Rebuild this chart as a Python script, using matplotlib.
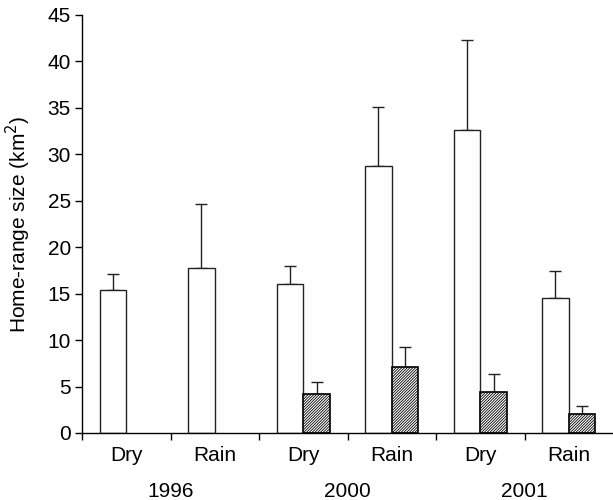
import matplotlib
matplotlib.use("Agg")
import matplotlib.pyplot as plt
import numpy as np

plt.rcParams['font.family'] = ['Liberation Sans', 'DejaVu Sans']
plt.rcParams['hatch.linewidth'] = 0.6

seasons = ["Dry", "Rain", "Dry", "Rain", "Dry", "Rain"]
years = ["1996", "2000", "2001"]
white_vals = [15.4, 17.75, 16.05, 28.7, 32.6, 14.5]
white_err = [1.75, 6.9, 1.9, 6.4, 9.75, 2.9]
hatch_vals = [np.nan, np.nan, 4.25, 7.15, 4.4, 2.05]
hatch_err = [np.nan, np.nan, 1.2, 2.1, 2.0, 0.85]

fig = plt.figure(figsize=(6.13, 5.0), dpi=100)
ax = fig.add_axes([0.1338, 0.134, 0.8662, 0.836])

x = np.arange(len(seasons)) + 0.5
w = 0.3
ax.bar(x - w/2, white_vals, width=w, color='white', edgecolor='#222222', linewidth=1.0, zorder=2)
ax.errorbar(x - w/2, white_vals, yerr=[np.zeros(len(white_vals)), white_err], fmt='none',
            ecolor='#222222', elinewidth=1.0, capsize=4, capthick=1.0, zorder=1)
hv = np.array(hatch_vals)
mask = ~np.isnan(hv)
ax.bar((x + w/2)[mask], hv[mask], width=w, color='white', edgecolor='black', hatch='/' * 12,
       linewidth=1.2, zorder=2)
ax.errorbar((x + w/2)[mask], hv[mask], yerr=[np.zeros(mask.sum()), np.array(hatch_err)[mask]],
            fmt='none', ecolor='#222222', elinewidth=1.0, capsize=4, capthick=1.0, zorder=1)

ax.set_xlim(0, 6)
ax.set_ylim(0, 45)
ax.set_yticks(np.arange(0, 46, 5))
ax.tick_params(axis='y', labelsize=15, direction='out', length=5, width=1, pad=3)
ax.set_xticks(np.arange(0, 6))
ax.set_xticklabels([])
ax.tick_params(axis='x', direction='out', length=5, width=1)
for s in ['top', 'right']:
    ax.spines[s].set_visible(False)
for s in ['left', 'bottom']:
    ax.spines[s].set_linewidth(1.0)

for xi, lab in zip(x, seasons):
    ax.text(xi, -2.4, lab, ha='center', va='center', fontsize=15)
for i, yr in enumerate(years):
    ax.text(2*i + 1, -6.3, yr, ha='center', va='center', fontsize=15)

ax.set_ylabel("Home-range size (km$^2$)", fontsize=15)
ax.yaxis.set_label_coords(-0.092, 0.5)

fig.savefig("out.png", dpi=100)
